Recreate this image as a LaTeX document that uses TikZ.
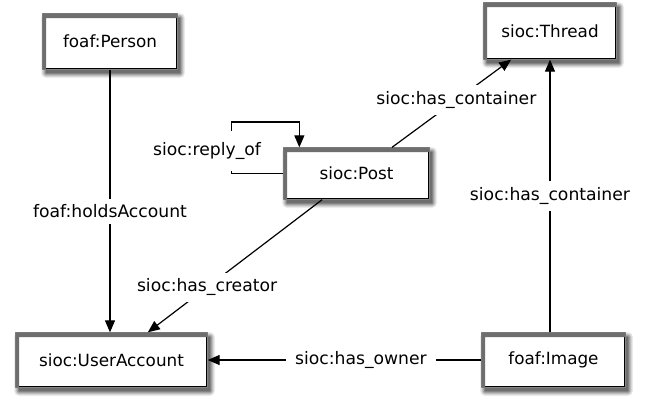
\documentclass[tikz,border=0pt]{standalone}
\usepackage{fontspec}
\setmainfont{DejaVu Sans}
\usetikzlibrary{arrows.meta}
\definecolor{shadeA}{RGB}{238,238,238}
\definecolor{shadeB}{RGB}{218,218,218}
\definecolor{shadeC}{RGB}{192,192,192}
\definecolor{shadeD}{RGB}{165,165,165}
\definecolor{shadeE}{RGB}{135,135,135}
\definecolor{shadeF}{RGB}{110,110,110}
% graded drop shadow round a box with corners (#1,#2) and (#3,#4);
% the box itself is cut out, so the shadow can be laid over the drawn box
\newcommand\castshade[4]{%
  \fill[shadeA, even odd rule] [rounded corners=5bp] (#1-2,#2-1) rectangle (#3+8,#4+9)
    [sharp corners] (#1-0.7,#2-0.7) rectangle (#3+0.7,#4+0.7);
  \fill[shadeB, even odd rule] [rounded corners=4bp] (#1-1,#2) rectangle (#3+7,#4+8)
    [sharp corners] (#1-0.7,#2-0.7) rectangle (#3+0.7,#4+0.7);
  \fill[shadeC, even odd rule] [rounded corners=3bp] (#1,#2+1) rectangle (#3+6,#4+7)
    [sharp corners] (#1-0.7,#2-0.7) rectangle (#3+0.7,#4+0.7);
  \fill[shadeD, even odd rule] [rounded corners=2bp] (#1+1,#2+2) rectangle (#3+5,#4+6)
    [sharp corners] (#1-0.7,#2-0.7) rectangle (#3+0.7,#4+0.7);
  \fill[shadeE, even odd rule] [rounded corners=1bp] (#1+2,#2+3) rectangle (#3+4,#4+5)
    [sharp corners] (#1-0.7,#2-0.7) rectangle (#3+0.7,#4+0.7);
  \fill[shadeF, even odd rule] (#1+3,#2+4) rectangle (#3+3,#4+4)
    (#1-0.7,#2-0.7) rectangle (#3+0.7,#4+0.7);
}
\begin{document}
\begin{tikzpicture}[x=1bp,y=-1bp,
  cls/.style={draw=black, line width=1.3bp, fill=white, inner sep=0pt,
    font=\fontsize{16.8bp}{20bp}\selectfont},
  rel/.style={line width=1.2bp, -{Triangle[length=12bp,width=10bp]}},
  lbl/.style={fill=white, inner xsep=9bp, inner ysep=6bp,
    font=\fontsize{17.2bp}{20bp}\selectfont}
]
\useasboundingbox (0,0) rectangle (655,396);

% classes
\node[cls, minimum width=134bp, minimum height=55bp] (person) at (110,41.5) {foaf:Person};
\node[cls, minimum width=132bp, minimum height=56bp] (thread) at (550,31) {sioc:Thread};
\node[cls, minimum width=145bp, minimum height=51bp] (post) at (356.5,173.5) {sioc:Post};
\node[cls, minimum width=191bp, minimum height=54bp] (ua) at (111.5,360) {sioc:UserAccount};
\node[cls, minimum width=143bp, minimum height=54bp] (image) at (553.5,360) {foaf:Image};

% shadows round the class boxes
\castshade{43}{14}{177}{69}
\castshade{484}{3}{616}{59}
\castshade{284}{148}{429}{199}
\castshade{16}{333}{207}{387}
\castshade{482}{333}{625}{387}

% properties
\draw[rel] (person) -- node[lbl, pos=0.54] (holds) {foaf:holdsAccount} (person |- ua.north);
\draw[rel] (post) -- node[lbl, pos=0.54] (cont1) {sioc:has\_container} (thread);
\draw[rel] (image.north -| thread.south) -- node[lbl, pos=0.5] (cont2) {sioc:has\_container} (thread.south);
\draw[rel] (post) -- node[lbl, pos=0.66] (creator) {sioc:has\_creator} (ua);
\draw[rel] (image) -- node[lbl, pos=0.44] (owner) {sioc:has\_owner} (ua);

% reply loop on the post
\draw[rel] (post.west) -- ++(-52,0) -- ++(0,-51.5) -| ([xshift=16bp]post.north west);
\node[lbl, inner ysep=11bp] (reply) at (207,151) {sioc:reply\_of};
\end{tikzpicture}
\end{document}
